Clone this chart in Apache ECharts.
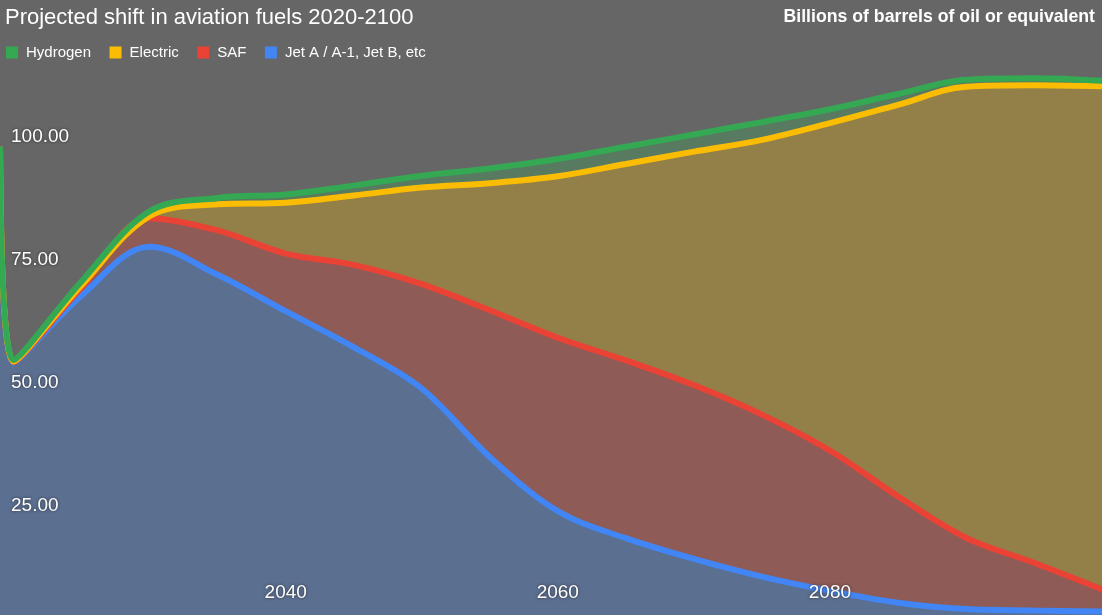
<!DOCTYPE html>
<html>
<head>
<meta charset="utf-8">
<script src="https://cdn.jsdelivr.net/npm/echarts@6/dist/echarts.min.js"></script>
<style>
html,body{margin:0;padding:0;background:#666666;}
#chart{width:1102px;height:615px;}
</style>
</head>
<body>
<div id="chart"></div>
<script>
const years    = [2019, 2020, 2025, 2030, 2035, 2040, 2045, 2050, 2055, 2060, 2065, 2070, 2075, 2080, 2085, 2090, 2095, 2100];
const jetA     = [98.0, 54.2, 67.8, 77.7, 72.0, 64.6, 57.3, 48.9, 35.0, 24.0, 18.5, 14.3, 10.7, 7.8, 5.4, 4.1, 3.8, 3.6];
const saf      = [0,    0.1,  1.6,  5.8,  9.0,  11.7, 16.7, 21.2, 29.8, 35.2, 36.1, 35.3, 32.9, 28.5, 21.6, 14.5, 9.7, 4.5];
const electric = [0,    0.1,  0.5,  0.4,  5.3,  10.3, 14.1, 19.6, 25.8, 32.8, 39.9, 47.4, 55.8, 66.5, 79.5, 91.6, 97.0, 102.2];
const hydrogen = [0,    0.3,  0.8,  1.0,  1.3,  1.7,  2.0,  2.4,  3.0,  3.5,  3.5,  3.5,  3.6,  2.8,  2.2,  1.4,  1.4,  1.1];

const xTickLabels = [2040, 2060, 2080];
const yTickLabels = [25, 50, 75, 100];

const seriesNames = ['Jet A / A-1, Jet B, etc', 'SAF', 'Electric', 'Hydrogen'];
const seriesValues = [jetA, saf, electric, hydrogen];
const seriesColors = ['#4285f4', '#ea4335', '#fbbc04', '#34a853'];

const FONT = '"Liberation Sans", Arial, sans-serif';
const labelStyle = {
  color: '#ffffff',
  fontFamily: FONT,
  fontSize: 19,
  textShadowColor: 'rgba(40,40,40,0.9)',
  textShadowBlur: 3,
  textShadowOffsetX: 0,
  textShadowOffsetY: 0
};

const chart = echarts.init(document.getElementById('chart'), null, {renderer: 'canvas'});
chart.setOption({
  backgroundColor: '#666666',
  animation: false,
  title: [
    {
      text: 'Projected shift in aviation fuels 2020-2100',
      left: 5, top: 7, padding: 0,
      textStyle: {color: '#ffffff', fontFamily: FONT, fontSize: 22, fontWeight: 'normal'}
    },
    {
      text: 'Billions of barrels of oil or equivalent',
      right: 7, top: 8, padding: 0,
      textStyle: {color: '#ffffff', fontFamily: FONT, fontSize: 17.7, fontWeight: 'bold'}
    }
  ],
  legend: {
    data: ['Hydrogen', 'Electric', 'SAF', 'Jet A / A-1, Jet B, etc'],
    left: 6, top: 45, padding: 0,
    icon: 'rect', itemWidth: 12, itemHeight: 12, itemGap: 18.5,
    textStyle: {color: '#ffffff', fontFamily: FONT, fontSize: 15, padding: [0, 0, 0, 3]}
  },
  grid: {left: 0, right: 0, top: 0, bottom: 0, containLabel: false},
  xAxis: {
    type: 'value', min: 2019, max: 2100, z: 5,
    axisLine: {show: false}, axisTick: {show: false}, splitLine: {show: false},
    axisLabel: Object.assign({inside: true, margin: 13, customValues: xTickLabels, formatter: v => String(v)}, labelStyle)
  },
  yAxis: {
    type: 'value', min: 2.9, max: 127.8, z: 5,
    axisLine: {show: false}, axisTick: {show: false}, splitLine: {show: false},
    axisLabel: Object.assign({inside: true, margin: 11, customValues: yTickLabels, formatter: v => v.toFixed(2)}, labelStyle)
  },
  series: seriesNames.map((name, i) => ({
    name: name,
    type: 'line',
    stack: 'fuel',
    smooth: 0.35,
    symbol: 'none',
    encode: {x: 1, y: 0},
    data: years.map((y, j) => [seriesValues[i][j], y]),
    lineStyle: {width: 6, color: seriesColors[i]},
    itemStyle: {color: seriesColors[i]},
    areaStyle: {color: seriesColors[i], opacity: 0.3}
  }))
});
</script>
</body>
</html>
